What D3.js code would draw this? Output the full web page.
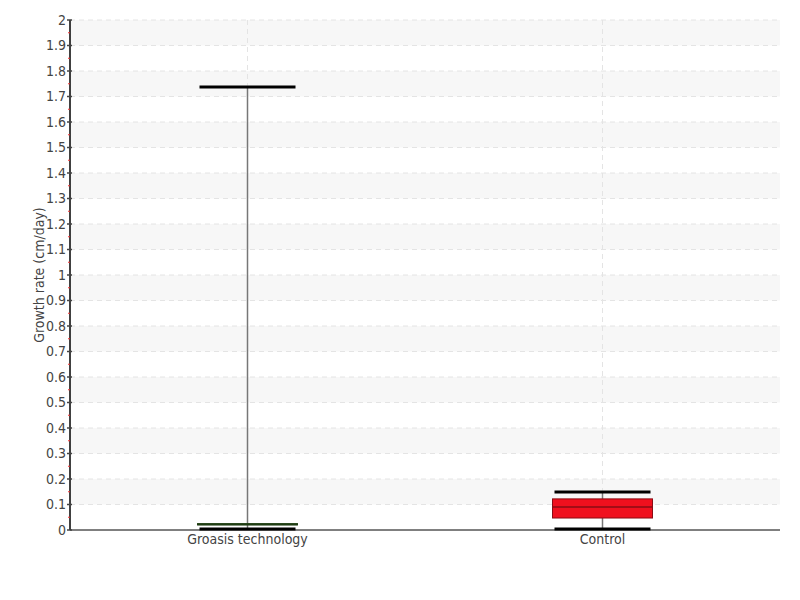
<!DOCTYPE html>
<html>
<head>
<meta charset="utf-8">
<script src="https://cdn.jsdelivr.net/npm/d3@7"></script>
<style>
  body{margin:0;background:#fff;}
  text{font-family:"DejaVu Sans Condensed","DejaVu Sans",sans-serif;font-stretch:condensed;fill:#444;}
</style>
</head>
<body>
<div class="chart"></div>
<script>
// data
const categories = ["Groasis technology","Control"];
const whiskerLow = [0.004,0.004];
const q1 = [0.020,0.047];
const medians = [0.022,0.090];
const q3 = [0.025,0.122];
const whiskerHigh = [1.737,0.149];
const boxFill = ["#3f7a2a","#f0101e"];
const boxStroke = ["#1f3d12","#8a0c14"];
const yTicks = d3.range(0,21).map(d=>d/10);
const yMinor = d3.range(0,20).map(d=>d/10+0.05);

const width = 800, height = 600;
const margin = {top:20,right:20,bottom:70,left:70};

const svg = d3.select(".chart").append("svg").attr("width",width).attr("height",height);

const x = d3.scaleBand().domain(categories).range([margin.left,width-margin.right]).padding(0);
const y = d3.scaleLinear().domain([0,2]).range([height-margin.bottom,margin.top]);

// alternating bands
const bands = svg.append("g").classed("bands",true);
bands.selectAll("rect")
    .data(yTicks.slice(0,-1).filter((d,i)=>i%2===1))
    .join("rect")
    .attr("x",margin.left)
    .attr("y",d=>y(d+0.1))
    .attr("width",width-margin.right-margin.left)
    .attr("height",d=>y(d)-y(d+0.1))
    .attr("fill","#f7f7f7");

// grid
const grid = svg.append("g").classed("grid",true);
grid.selectAll(".hgrid")
    .data(yTicks.slice(1))
    .join("line")
    .classed("hgrid",true)
    .attr("x1",margin.left).attr("x2",width-margin.right)
    .attr("y1",d=>y(d)).attr("y2",d=>y(d))
    .attr("stroke","#e4e4e4").attr("stroke-dasharray","5,4");
grid.selectAll(".vgrid")
    .data(categories)
    .join("line")
    .classed("vgrid",true)
    .attr("x1",d=>x(d)+x.bandwidth()/2).attr("x2",d=>x(d)+x.bandwidth()/2)
    .attr("y1",margin.top).attr("y2",y(0))
    .attr("stroke","#e4e4e4").attr("stroke-dasharray","5,4");

// boxes
const boxW = 100, capW = 96;
const boxes = svg.append("g").classed("boxes",true)
    .selectAll("g")
    .data(categories.map((c,i)=>({c:c,i:i})))
    .join("g")
    .attr("transform",d=>`translate(${x(d.c)+x.bandwidth()/2},0)`);

boxes.append("line")
    .attr("x1",0).attr("x2",0)
    .attr("y1",d=>y(whiskerLow[d.i])).attr("y2",d=>y(whiskerHigh[d.i]))
    .attr("stroke","#777").attr("stroke-width",1.5);
boxes.append("rect")
    .attr("x",-boxW/2)
    .attr("y",d=>y(q3[d.i]))
    .attr("width",boxW)
    .attr("height",d=>Math.max(1,y(q1[d.i])-y(q3[d.i])))
    .attr("fill",d=>boxFill[d.i])
    .attr("stroke",d=>boxStroke[d.i]).attr("stroke-width",1);
boxes.append("line")
    .attr("x1",-boxW/2).attr("x2",boxW/2)
    .attr("y1",d=>y(medians[d.i])).attr("y2",d=>y(medians[d.i]))
    .attr("stroke",d=>boxStroke[d.i]).attr("stroke-width",1.5);
boxes.selectAll(".cap")
    .data(d=>[whiskerLow[d.i],whiskerHigh[d.i]])
    .join("line")
    .classed("cap",true)
    .attr("x1",-capW/2).attr("x2",capW/2)
    .attr("y1",d=>y(d)).attr("y2",d=>y(d))
    .attr("stroke","#000").attr("stroke-width",3);

// axes
const axisG = svg.append("g").classed("axes",true);
axisG.append("line")
    .attr("x1",margin.left).attr("x2",width-margin.right)
    .attr("y1",y(0)).attr("y2",y(0))
    .attr("stroke","#000").attr("stroke-width",1);
axisG.append("line")
    .attr("x1",margin.left).attr("x2",margin.left)
    .attr("y1",y(0)).attr("y2",y(2))
    .attr("stroke","#000").attr("stroke-width",1.5);
axisG.selectAll(".minor")
    .data(yMinor)
    .join("line")
    .classed("minor",true)
    .attr("x1",margin.left-2).attr("x2",margin.left)
    .attr("y1",d=>y(d)).attr("y2",d=>y(d))
    .attr("stroke","#ee3333").attr("stroke-width",1);
axisG.selectAll(".major")
    .data(yTicks)
    .join("line")
    .classed("major",true)
    .attr("x1",margin.left-3).attr("x2",margin.left+2)
    .attr("y1",d=>y(d)).attr("y2",d=>y(d))
    .attr("stroke","#444").attr("stroke-width",1.5);
axisG.selectAll(".ylabel")
    .data(yTicks)
    .join("text")
    .classed("ylabel",true)
    .attr("x",margin.left-4)
    .attr("y",d=>y(d))
    .attr("dy","0.35em")
    .attr("text-anchor","end")
    .style("font-size","14px")
    .text(d=>d3.format("")(+d.toFixed(1)));
axisG.selectAll(".xlabel")
    .data(categories)
    .join("text")
    .classed("xlabel",true)
    .attr("x",d=>x(d)+x.bandwidth()/2)
    .attr("y",y(0)+14)
    .attr("text-anchor","middle")
    .style("font-size","14px")
    .text(d=>d);

svg.append("text")
    .attr("transform",`translate(44,${(y(0)+y(2))/2}) rotate(-90)`)
    .attr("text-anchor","middle")
    .style("font-size","14px")
    .text("Growth rate (cm/day)");
</script>
</body>
</html>
